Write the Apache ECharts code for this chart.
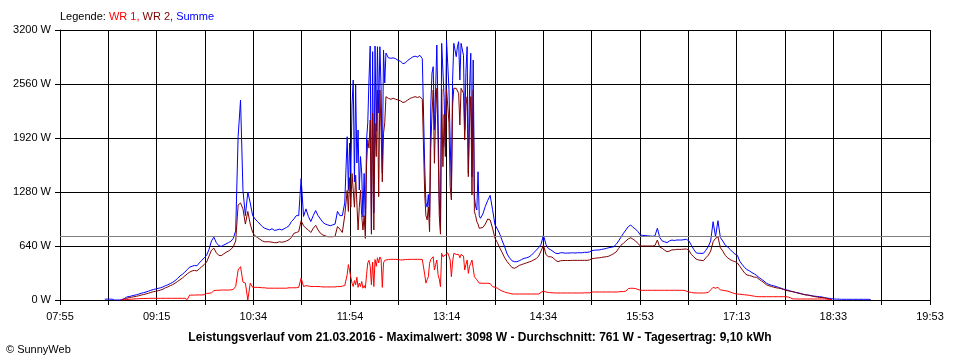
<!DOCTYPE html>
<html><head><meta charset="utf-8">
<script src="https://cdn.jsdelivr.net/npm/echarts@6.0.0/dist/echarts.min.js"></script>
<style>html,body{margin:0;padding:0;background:#fff}#c{width:960px;height:360px}</style>
</head><body><div id="c"></div>
<script>
// ---- axis / labels ----
const axisStart = '07:55';
const axisEnd = '19:53';
const gridCount = 18;
const tickLabels = ['07:55','09:15','10:34','11:54','13:14','14:34','15:53','17:13','18:33','19:53'];
const yMax = 3200;
const yStep = 640;
const average = 761;
const infoText = 'Leistungsverlauf vom 21.03.2016 - Maximalwert: 3098 W - Durchschnitt: 761 W - Tagesertrag: 9,10 kWh';

// ---- coarse samples: every 2 minutes starting 08:32 (W) ----
const sampleStart = '08:32';
const sampleStepMin = 2;

const summe = [
10,10,10,10,0,0,0,5,15,35,
41,48,55,62,70,80,87,95,105,115,
125,130,138,145,155,170,180,195,210,230,
255,285,305,330,360,390,400,410,405,440,
470,500,530,600,700,745,680,645,635,650,
665,680,695,730,820,1935,2370,1300,1000,1280,
1150,1000,960,930,900,870,850,840,830,845,
825,830,840,830,845,860,880,930,960,1000,
1000,1440,990,1080,990,930,1000,1060,1000,960,
920,900,890,880,890,900,1050,1000,1000,1150,
1900,1500,2400,2600,1650,2000,1300,900,1900,2650,
2950,1050,3000,2200,1550,2960,2880,2870,2865,2870,
2860,2840,2830,2800,2810,2840,2860,2880,2890,2880,
2900,2860,1580,1100,1000,2700,2100,3020,850,3040,
1850,3098,1900,1300,3050,2900,3060,2600,3050,2500,
3000,1480,2840,1150,1500,970,1020,1110,1180,1240,
1070,890,840,780,700,630,545,500,465,454,
454,465,480,494,500,510,530,560,590,620,
660,770,660,610,595,575,555,550,560,560,
555,557,557,560,557,560,560,560,565,565,
570,585,590,592,593,600,605,612,620,625,
632,660,700,745,790,830,870,889,860,840,
810,770,765,765,760,758,755,760,850,740,
700,690,680,700,711,705,711,711,711,715,
720,700,650,600,560,553,553,553,590,632,
700,928,750,940,740,700,650,630,600,570,
545,530,460,420,385,360,345,325,310,290,
265,245,225,200,185,175,168,160,150,140,
130,122,115,105,98,90,85,78,70,62,
58,55,50,45,42,39,35,28,22,20,
15,12,10,10,8,8,8,8,8,8,
8,8,8,8,8,8,5
];

const wr2 = [
null,null,null,null,null,null,null,5,10,20,
28,33,38,44,50,58,65,72,80,90,
98,103,110,118,128,145,155,170,182,200,
220,240,260,285,310,330,345,350,345,370,
395,420,450,520,590,615,560,530,525,545,
565,580,600,630,700,1126,1150,1080,900,1050,
900,800,760,740,720,700,690,690,690,685,
680,680,690,685,690,700,715,740,790,800,
810,940,880,850,830,800,850,885,830,790,
770,760,750,750,750,755,870,840,800,1000,
1300,1050,1500,1500,1150,850,1300,780,1650,1900,
2200,850,2400,1250,2000,1980,2390,2390,2380,2390,
2380,2370,2360,2340,2350,2370,2390,2400,2410,2400,
2410,2380,1250,900,810,2200,1650,2500,830,2500,
1600,2500,1400,1180,2500,2500,2450,2070,2500,1900,
2410,1460,2480,1040,920,830,860,900,960,950,
850,731,680,615,560,500,455,420,385,376,
390,410,420,430,440,450,460,475,490,520,
580,652,540,513,513,500,470,455,465,468,
468,468,468,470,470,470,470,470,470,470,
475,490,494,498,500,505,510,513,520,535,
550,570,610,650,672,700,725,738,720,700,
670,640,640,640,640,640,640,645,711,625,
613,590,573,580,595,595,600,600,600,603,
605,590,540,513,485,474,470,466,500,530,
580,690,731,750,620,580,530,500,480,465,
455,440,400,360,320,296,290,282,270,269,
245,225,205,180,170,160,152,145,140,135,
125,115,108,103,98,90,82,75,68,62,
59,52,45,40,35,30,28,25,20,10,
5
];

const wr1 = [
null,null,null,null,null,null,null,0,3,5,
8,10,12,15,15,17,18,18,19,20,
20,20,20,20,20,20,20,20,20,20,
20,20,20,20,5,58,58,58,60,60,
60,62,78,80,85,110,115,115,118,118,
118,118,120,125,160,356,395,213,201,0,
200,150,150,150,148,145,145,140,140,140,
140,140,140,140,140,140,145,145,145,145,
150,260,160,170,165,160,160,160,160,158,
155,155,155,155,155,155,160,158,165,170,
300,380,200,180,250,170,200,150,350,430,
450,150,480,420,490,180,480,480,482,482,
482,478,475,475,480,480,482,482,482,482,
482,480,200,230,430,500,380,470,160,550,
520,560,500,280,550,540,530,540,520,360,
320,460,470,280,250,200,198,198,198,195,
158,150,140,120,105,95,85,80,72,71,
71,71,71,71,71,71,71,71,71,71,
90,107,95,90,87,85,83,83,83,83,
83,83,83,83,83,83,83,83,85,85,
85,95,95,95,95,95,95,95,95,95,
95,95,97,100,100,105,135,139,139,135,
125,115,115,115,115,115,115,115,115,115,
115,115,115,115,115,115,115,115,115,115,
105,95,90,85,83,83,83,83,85,90,
120,150,140,150,119,115,110,105,95,85,
75,71,68,65,62,59,55,50,45,40,
39,39,39,39,39,39,39,39,39,39,
39,39,35,25,12,12,12,12,12,12,
12,12,12,12,12,12,12,12,10,5,
0
];

// ---- fine samples (every minute) in the two cloudy bursts ----
const burst1Start = '11:52';
const burst1Summe = [1935,1300,1860,1500,2311,2607,1400,2548,1624,2015,1304,1700,1505,984,1500,865,1896,2100,2607,3010,830,2943,1031,3010,2000,3002,2216,3002,2500,1505,2963,2572,2927];
const burst1Wr2   = [1300,1050,1450,1100,1500,1500,1100,1480,1150,830,1100,1300,1000,830,1000,730,1600,1900,1800,2133,780,2212,830,2094,1700,2489,1224,2489,2000,1400,1975,2100,2410];
const burst1Wr1   = [300,420,350,270,200,160,230,180,270,150,200,160,220,140,170,140,300,440,470,400,180,450,160,480,400,500,440,510,480,150,440,470,480];

const burst2Start = '12:56';
const burst2Summe = [1580,1150,1100,1250,980,2300,2690,2765,2015,2500,3022,2216,1200,830,3042,3062,2400,1817,3081,3098,2500,1896,1304,2600,3042,3062,2884,3000,3062,2607,3042,3062,2900,2015,2700,3002,1505,2500,2924,1461,2844,1224,1106,1067,1520,1000,968];
const burst2Wr2   = [1250,1000,950,1100,810,1800,2212,2489,1620,2200,2509,1896,1000,780,2500,1580,2200,1700,2500,2500,2100,1343,1185,2300,2509,2509,2509,2509,2450,2074,2509,2509,2450,1896,2300,2410,1461,2100,2410,1244,2489,1046,1000,928,900,850,830];
const burst2Wr1   = [300,200,240,276,435,480,500,513,356,420,474,300,250,158,553,513,520,533,553,560,520,474,276,450,553,540,540,530,540,500,540,545,520,356,420,474,316,400,435,474,474,276,257,240,220,200,198];

// ---- build ----
function toMin(s){ const p = s.split(':'); return (+p[0]) * 60 + (+p[1]); }
const span = toMin(axisEnd) - toMin(axisStart);
const gridStep = span / gridCount;
const offset0 = toMin(sampleStart) - toMin(axisStart);

function build(coarse, bursts) {
  const wins = bursts.map(b => {
    const t0 = toMin(b.start) - toMin(axisStart);
    return {t0: t0, t1: t0 + b.values.length - 1, values: b.values};
  });
  const pts = [];
  coarse.forEach((v, i) => {
    const t = offset0 + i * sampleStepMin;
    if (wins.some(w => t >= w.t0 && t <= w.t1)) return;
    pts.push([t, v]);
  });
  wins.forEach(w => w.values.forEach((v, j) => pts.push([w.t0 + j, v])));
  pts.sort((a, b) => a[0] - b[0]);
  return pts;
}

const dataSumme = build(summe, [{start: burst1Start, values: burst1Summe}, {start: burst2Start, values: burst2Summe}]);
const dataWr2 = build(wr2, [{start: burst1Start, values: burst1Wr2}, {start: burst2Start, values: burst2Wr2}]);
const dataWr1 = build(wr1, [{start: burst1Start, values: burst1Wr1}, {start: burst2Start, values: burst2Wr1}]);

const FONT = 'Liberation Sans';
const chart = echarts.init(document.getElementById('c'), null, {renderer: 'canvas'});
chart.setOption({
  animation: false,
  backgroundColor: '#ffffff',
  textStyle: {fontFamily: FONT},
  title: [
    {
      left: 60, top: 11, padding: 0,
      text: '{k|Legende: }{a|WR 1, }{b|WR 2, }{c|Summe}',
      textStyle: {
        fontFamily: FONT, fontSize: 11, fontWeight: 'normal',
        rich: {
          k: {color: '#000000', fontSize: 11, fontFamily: FONT},
          a: {color: '#ff0000', fontSize: 11, fontFamily: FONT},
          b: {color: '#800000', fontSize: 11, fontFamily: FONT},
          c: {color: '#0000ff', fontSize: 11, fontFamily: FONT}
        }
      }
    },
    {
      left: 'center', top: 332, padding: 0,
      text: infoText,
      textStyle: {fontFamily: FONT, fontSize: 12, fontWeight: 'bold', color: '#000000'}
    },
    {
      left: 6, top: 344, padding: 0,
      text: '\u00a9 SunnyWeb',
      textStyle: {fontFamily: FONT, fontSize: 11, fontWeight: 'normal', color: '#000000'}
    }
  ],
  grid: {left: 60, right: 30, top: 30, bottom: 60, containLabel: false},
  xAxis: {
    type: 'value', min: 0, max: span, interval: gridStep,
    axisLine: {show: true, onZero: false, lineStyle: {color: '#000000', width: 1}},
    axisTick: {show: true, length: 5, lineStyle: {color: '#000000', width: 1}},
    splitLine: {show: true, lineStyle: {color: '#000000', width: 1}},
    axisLabel: {
      color: '#000000', fontSize: 11, fontFamily: FONT, margin: 11,
      formatter: v => { const i = Math.round(v / gridStep); return i % 2 === 0 ? (tickLabels[i / 2] || '') : ''; }
    }
  },
  yAxis: {
    type: 'value', min: 0, max: yMax, interval: yStep,
    axisLine: {show: true, lineStyle: {color: '#000000', width: 1}},
    axisTick: {show: true, length: 5, lineStyle: {color: '#000000', width: 1}},
    splitLine: {show: true, lineStyle: {color: '#000000', width: 1}},
    axisLabel: {color: '#000000', fontSize: 11, fontFamily: FONT, margin: 9, formatter: v => v + ' W'}
  },
  series: [
    {
      name: 'Summe', type: 'line', data: dataSumme,
      showSymbol: false, symbol: 'none', lineStyle: {color: '#0000ff', width: 1},
      itemStyle: {color: '#0000ff'}, silent: true,
      markLine: {
        silent: true, symbol: 'none', label: {show: false},
        lineStyle: {color: '#808080', width: 1, type: 'solid'},
        data: [{yAxis: average}]
      }
    },
    {
      name: 'WR 2', type: 'line', data: dataWr2,
      showSymbol: false, symbol: 'none', lineStyle: {color: '#800000', width: 1},
      itemStyle: {color: '#800000'}, silent: true
    },
    {
      name: 'WR 1', type: 'line', data: dataWr1,
      showSymbol: false, symbol: 'none', lineStyle: {color: '#ff0000', width: 1},
      itemStyle: {color: '#ff0000'}, silent: true
    }
  ]
});
</script>
</body></html>
